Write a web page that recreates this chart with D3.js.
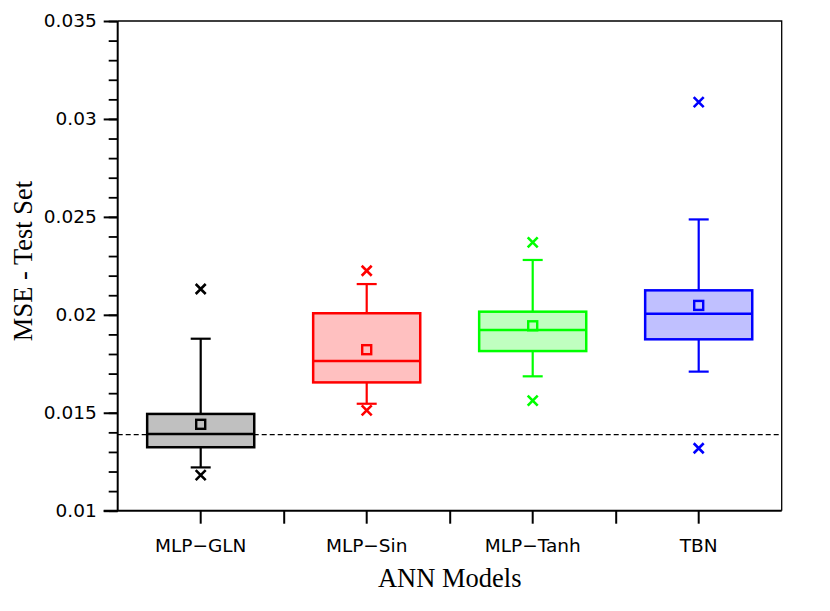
<!DOCTYPE html>
<html>
<head>
<meta charset="utf-8">
<script src="https://cdn.jsdelivr.net/npm/d3@7"></script>
<style>
  body { margin: 0; background: #fff; }
  svg { display: block; }
</style>
</head>
<body>
<div id="chart"></div>
<script>
// data
const models = ["MLP\u2212GLN", "MLP\u2212Sin", "MLP\u2212Tanh", "TBN"];
const q1 = [0.01324, 0.01655, 0.01815, 0.01875];
const q3 = [0.01494, 0.02008, 0.02016, 0.02125];
const medians = [0.01392, 0.01764, 0.01922, 0.02006];
const means = [0.01441, 0.01822, 0.01944, 0.02048];
const whiskerLow = [0.01221, 0.01546, 0.01686, 0.0171];
const whiskerHigh = [0.01878, 0.02157, 0.0228, 0.02487];
const outlierLow = [0.01182, 0.01512, 0.01562, 0.01319];
const outlierHigh = [0.02132, 0.02225, 0.0237, 0.03086];
const strokeColors = ["#000000", "#ff0000", "#00ff00", "#0000ff"];
const fillColors = ["#c0c0c0", "#ffc0c0", "#c0ffc0", "#c0c0ff"];
const refLine = 0.01388;
const yTicks = [0.01, 0.015, 0.02, 0.025, 0.03, 0.035];
const yTickLabels = ["0.01", "0.015", "0.02", "0.025", "0.03", "0.035"];

const width = 830;
const height = 611;
const plotL = 117.7, plotR = 781.7, plotT = 21, plotB = 510.7;

let svg = d3.select("#chart").append("svg")
  .attr("width", width)
  .attr("height", height);

let x = d3.scaleBand().domain(models).range([plotL, plotR]).padding(0);
let y = d3.scaleLinear().domain([0.01, 0.035]).range([plotB, plotT]);

let boxW = x.bandwidth() * 0.645;
let capW = 20;
let cx = (i) => x(models[i]) + x.bandwidth() / 2;

// frame top/right
svg.append("path")
  .attr("d", `M${plotL},${plotT}H${plotR}V${plotB}`)
  .attr("fill", "none")
  .attr("stroke", "#000")
  .attr("stroke-width", 1.3);

// reference dashed line
svg.append("line")
  .attr("x1", plotL).attr("x2", plotR)
  .attr("y1", y(refLine)).attr("y2", y(refLine))
  .attr("stroke", "#000")
  .attr("stroke-width", 1.2)
  .attr("stroke-dasharray", "5,3");

// boxes
let g = svg.selectAll(".box")
  .data(models)
  .enter()
  .append("g")
  .attr("class", "box");

// whiskers
g.append("line")
  .attr("x1", (d, i) => cx(i)).attr("x2", (d, i) => cx(i))
  .attr("y1", (d, i) => y(q3[i])).attr("y2", (d, i) => y(whiskerHigh[i]))
  .attr("stroke", (d, i) => strokeColors[i]).attr("stroke-width", 2.2);
g.append("line")
  .attr("x1", (d, i) => cx(i)).attr("x2", (d, i) => cx(i))
  .attr("y1", (d, i) => y(q1[i])).attr("y2", (d, i) => y(whiskerLow[i]))
  .attr("stroke", (d, i) => strokeColors[i]).attr("stroke-width", 2.2);
g.append("line")
  .attr("x1", (d, i) => cx(i) - capW / 2).attr("x2", (d, i) => cx(i) + capW / 2)
  .attr("y1", (d, i) => y(whiskerHigh[i])).attr("y2", (d, i) => y(whiskerHigh[i]))
  .attr("stroke", (d, i) => strokeColors[i]).attr("stroke-width", 2.2);
g.append("line")
  .attr("x1", (d, i) => cx(i) - capW / 2).attr("x2", (d, i) => cx(i) + capW / 2)
  .attr("y1", (d, i) => y(whiskerLow[i])).attr("y2", (d, i) => y(whiskerLow[i]))
  .attr("stroke", (d, i) => strokeColors[i]).attr("stroke-width", 2.2);

g.append("rect")
  .attr("x", (d, i) => cx(i) - boxW / 2)
  .attr("y", (d, i) => y(q3[i]))
  .attr("width", boxW)
  .attr("height", (d, i) => y(q1[i]) - y(q3[i]))
  .attr("fill", (d, i) => fillColors[i])
  .attr("stroke", (d, i) => strokeColors[i])
  .attr("stroke-width", 2.5);

g.append("line")
  .attr("x1", (d, i) => cx(i) - boxW / 2).attr("x2", (d, i) => cx(i) + boxW / 2)
  .attr("y1", (d, i) => y(medians[i])).attr("y2", (d, i) => y(medians[i]))
  .attr("stroke", (d, i) => strokeColors[i]).attr("stroke-width", 2.5);

// mean squares
g.append("rect")
  .attr("x", (d, i) => cx(i) - 4.5)
  .attr("y", (d, i) => y(means[i]) - 4.5)
  .attr("width", 9).attr("height", 9)
  .attr("fill", "none")
  .attr("stroke", (d, i) => strokeColors[i])
  .attr("stroke-width", 2.4);

// outlier crosses
const cross = (px, py, s) =>
  `M${px - s},${py - s}L${px + s},${py + s}M${px - s},${py + s}L${px + s},${py - s}`;
g.append("path")
  .attr("d", (d, i) => cross(cx(i), y(outlierHigh[i]), 5) + cross(cx(i), y(outlierLow[i]), 5))
  .attr("fill", "none")
  .attr("stroke", (d, i) => strokeColors[i])
  .attr("stroke-width", 2.6);

// y axis: minor then major
svg.append("g")
  .attr("transform", `translate(${plotL},0)`)
  .call(d3.axisLeft(y).tickValues(d3.range(0.01, 0.0351, 0.001)).tickSize(9).tickFormat(""))
  .call((a) => a.select(".domain").remove())
  .selectAll("line").attr("stroke-width", 1.8);

let yAxis = svg.append("g")
  .attr("transform", `translate(${plotL},0)`)
  .call(d3.axisLeft(y).tickValues(yTicks).tickSize(14).tickPadding(7)
    .tickFormat((d, i) => yTickLabels[i]));
yAxis.select(".domain").attr("d", `M0,${plotB}V${plotT}`).attr("stroke-width", 2);
yAxis.selectAll("line").attr("stroke-width", 2);
yAxis.selectAll("text")
  .attr("font-family", "DejaVu Sans")
  .attr("font-size", 18.5)
  .attr("fill", "#000");

// x axis: category ticks + separators
svg.append("g")
  .attr("transform", `translate(0,${plotB})`)
  .call(d3.axisBottom(x).tickSize(13).tickFormat(""))
  .call((a) => a.select(".domain").remove())
  .selectAll("line").attr("stroke-width", 2);

let sepScale = d3.scaleLinear().domain([0, 4]).range([plotL, plotR]);
let xAxis = svg.append("g")
  .attr("transform", `translate(0,${plotB})`)
  .call(d3.axisBottom(sepScale).tickValues([1, 2, 3]).tickSize(13).tickFormat(""));
xAxis.select(".domain").attr("d", `M${plotL - 14},0H${plotR}`).attr("stroke-width", 2);
xAxis.selectAll("line").attr("stroke-width", 2);

svg.append("g")
  .selectAll("text")
  .data(models)
  .enter()
  .append("text")
  .attr("x", (d, i) => cx(i))
  .attr("y", 552.3)
  .attr("text-anchor", "middle")
  .attr("font-family", "DejaVu Sans")
  .attr("font-size", 18.5)
  .text((d) => d);

// axis titles
svg.append("text")
  .attr("x", (plotL + plotR) / 2)
  .attr("y", 587.3)
  .attr("text-anchor", "middle")
  .attr("font-family", "Liberation Serif")
  .attr("font-size", 26.5)
  .text("ANN Models");

svg.append("text")
  .attr("transform", "rotate(-90)")
  .attr("x", -261)
  .attr("y", 32)
  .attr("text-anchor", "middle")
  .attr("font-family", "Liberation Serif")
  .attr("font-size", 26.5)
  .text("MSE - Test Set");
</script>
</body>
</html>
